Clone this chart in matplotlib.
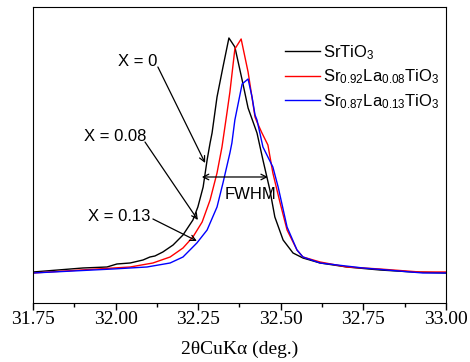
import matplotlib.pyplot as plt
from matplotlib.ticker import MultipleLocator

plt.rcParams['font.family'] = ['Liberation Sans', 'DejaVu Sans']
plt.rcParams['mathtext.fontset'] = 'custom'
plt.rcParams['mathtext.rm'] = 'Liberation Sans'
plt.rcParams['mathtext.it'] = 'Liberation Sans'

# SrTiO3
x_0 = [31.750, 31.901, 31.974, 32.004, 32.044, 32.083, 32.104, 32.119, 32.143, 32.174,
       32.204, 32.234, 32.249, 32.265, 32.277, 32.286, 32.292, 32.307, 32.325, 32.343,
       32.361, 32.383, 32.401, 32.428, 32.446, 32.467, 32.482, 32.507, 32.537, 32.567,
       32.619, 32.700, 32.800, 32.900, 33.000]
y_0 = [31, 35, 36, 39, 40, 43, 46, 47, 51, 58,
       68, 83, 96, 116, 143, 160, 170, 206, 236, 265,
       256, 223, 195, 170, 143, 113, 86, 63, 50, 45,
       40, 36, 33, 31, 30]

# Sr0.92La0.08TiO3
x_8 = [31.750, 31.944, 32.044, 32.113, 32.165, 32.204, 32.234, 32.262, 32.286, 32.307,
       32.322, 32.337, 32.346, 32.361, 32.380, 32.401, 32.422, 32.428, 32.443, 32.461,
       32.476, 32.498, 32.519, 32.549, 32.567, 32.619, 32.700, 32.800, 32.921, 33.000]
y_8 = [30, 34, 36, 40, 46, 55, 66, 81, 103, 130,
       156, 190, 211, 254, 264, 231, 186, 181, 170, 158,
       130, 100, 73, 53, 46, 41, 36, 34, 31, 31]

# Sr0.87La0.13TiO3
x_13 = [31.750, 31.992, 32.095, 32.165, 32.204, 32.246, 32.277, 32.307, 32.325, 32.346,
        32.352, 32.361, 32.383, 32.401, 32.413, 32.422, 32.428, 32.446, 32.476, 32.492,
        32.519, 32.549, 32.567, 32.619, 32.749, 32.930, 33.000]
y_13 = [30, 34, 36, 40, 46, 60, 73, 96, 120, 150,
        160, 183, 219, 224, 206, 188, 183, 156, 136, 116,
        76, 53, 46, 40, 35, 30, 30]

fig = plt.figure(figsize=(4.7, 3.62), dpi=100)
ax = fig.add_axes([0.0702, 0.163, 0.8787, 0.8177])

ax.plot(x_0, y_0, color='black', lw=1, label='SrTiO$_3$')
ax.plot(x_8, y_8, color='red', lw=1, label='Sr$_{0.92}$La$_{0.08}$TiO$_3$')
ax.plot(x_13, y_13, color='blue', lw=1, label='Sr$_{0.87}$La$_{0.13}$TiO$_3$')

ax.set_xlim(31.75, 33.0)
ax.set_ylim(0, 296)
ax.xaxis.set_major_locator(MultipleLocator(0.25))
ax.xaxis.set_minor_locator(MultipleLocator(0.125))
ax.xaxis.set_major_formatter(plt.FormatStrFormatter('%.2f'))
ax.set_yticks([])
ax.tick_params(axis='x', which='major', direction='out', length=5, width=1, pad=1)
ax.tick_params(axis='x', which='minor', direction='out', length=3, width=1)
for lbl in ax.get_xticklabels():
    lbl.set_family('Liberation Serif')
    lbl.set_fontsize(14)
ax.set_xlabel('2θCuKα (deg.)', family='Liberation Serif', fontsize=14, labelpad=9)

# annotations
fs = 12
arr = dict(arrowstyle='->', color='black', lw=0.9, shrinkA=0, shrinkB=0)
ax.text(32.007, 241, 'X = 0', fontsize=fs, va='center')
ax.annotate('', xy=(32.271, 140), xytext=(32.128, 236), arrowprops=arr)
ax.text(31.904, 166, 'X = 0.08', fontsize=fs, va='center')
ax.annotate('', xy=(32.249, 83), xytext=(32.089, 161), arrowprops=arr)
ax.text(31.916, 86, 'X = 0.13', fontsize=fs, va='center')
ax.annotate('', xy=(32.246, 62), xytext=(32.113, 84), arrowprops=arr)
ax.annotate('', xy=(32.261, 126), xytext=(32.461, 126),
            arrowprops=dict(arrowstyle='<->', color='black', lw=0.9, shrinkA=0, shrinkB=0))
ax.text(32.329, 108, 'FWHM', fontsize=fs, va='center')

ax.legend(loc='upper left', bbox_to_anchor=(0.61, 0.878), frameon=False, fontsize=fs,
          handlelength=2.1, handletextpad=0.2, borderpad=0, borderaxespad=0,
          labelspacing=0.35)

fig.savefig('out.png', dpi=100)
